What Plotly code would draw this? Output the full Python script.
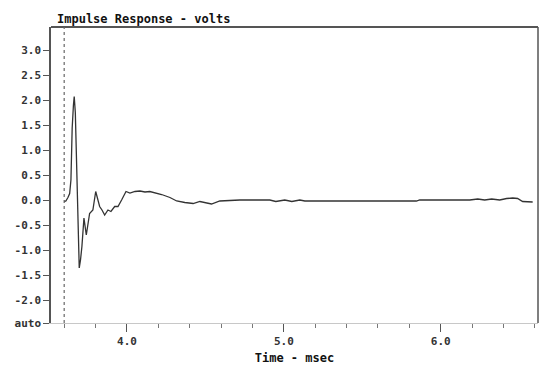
import plotly.graph_objects as go

# Impulse response samples (time in msec, value in volts)
time_ms = [3.599, 3.611, 3.624, 3.635, 3.643, 3.647, 3.651, 3.659, 3.664, 3.671, 3.678,
           3.685, 3.691, 3.696, 3.704, 3.713, 3.726, 3.741, 3.762, 3.783, 3.801, 3.826,
           3.841, 3.858, 3.879, 3.898, 3.922, 3.943, 3.966, 3.994, 4.019, 4.051, 4.083,
           4.115, 4.146, 4.185, 4.221, 4.274, 4.317, 4.369, 4.422, 4.465, 4.529, 4.539,
           4.592, 4.720, 4.911, 4.949, 5.006, 5.051, 5.102, 5.134, 5.293, 5.548, 5.845,
           5.866, 5.962, 5.994, 6.185, 6.236, 6.280, 6.325, 6.376, 6.420, 6.459, 6.490,
           6.522, 6.586]
volts = [-0.03, -0.02, 0.05, 0.13, 0.40, 1.00, 1.44, 1.90, 2.07, 1.75, 0.90,
         -0.30, -1.10, -1.36, -1.20, -0.93, -0.36, -0.70, -0.27, -0.20, 0.17, -0.13,
         -0.20, -0.30, -0.20, -0.23, -0.13, -0.13, 0.00, 0.17, 0.14, 0.17, 0.18,
         0.16, 0.17, 0.14, 0.11, 0.05, -0.02, -0.05, -0.07, -0.03, -0.07, -0.08,
         -0.02, 0.00, 0.00, -0.03, 0.00, -0.03, 0.00, -0.02, -0.02, -0.02, -0.02,
         0.00, -0.01, 0.00, 0.00, 0.02, 0.00, 0.02, 0.00, 0.03, 0.04, 0.03,
         -0.03, -0.04]

y_tick_vals = [-2.46, -2.0, -1.5, -1.0, -0.5, 0.0, 0.5, 1.0, 1.5, 2.0, 2.5, 3.0]
y_tick_text = ["auto", "-2.0", "-1.5", "-1.0", "-0.5", "0.0", "0.5", "1.0", "1.5", "2.0", "2.5", "3.0"]
x_major_vals = [4.0, 5.0, 6.0]
x_major_text = ["4.0", "5.0", "6.0"]
marker_time = 3.6

X_RANGE = [3.516, 6.62]
Y_RANGE = [-2.46, 3.46]
FONT = "DejaVu Sans Mono"

fig = go.Figure()
fig.add_trace(go.Scatter(x=time_ms, y=volts, mode="lines",
                         line=dict(color="#333333", width=1.3), showlegend=False))

fig.update_layout(
    width=549, height=365,
    margin=dict(l=51, r=11, t=27, b=42),
    paper_bgcolor="white", plot_bgcolor="white",
    font=dict(family=FONT, size=11, color="#222222"),
    xaxis=dict(range=X_RANGE, showgrid=False, zeroline=False, automargin=False,
               showline=True, linecolor="#c8c8c8", linewidth=1,
               tickmode="array", tickvals=x_major_vals, ticktext=x_major_text,
               ticks="outside", ticklen=8, tickcolor="#555555", tickwidth=1,
               ticklabelstandoff=0,
               minor=dict(dtick=0.2, tick0=4.0, ticks="outside", ticklen=4,
                          tickcolor="#777777", showgrid=False),
               tickfont=dict(family=FONT, size=11, color="#333333", weight="bold"),
               title=dict(text="Time - msec", standoff=13,
                          font=dict(family=FONT, size=12, color="#111111", weight="bold"))),
    yaxis=dict(range=Y_RANGE, showgrid=False, zeroline=False, automargin=False,
               showline=True, linecolor="#555555", linewidth=1.5,
               tickmode="array", tickvals=y_tick_vals, ticktext=y_tick_text,
               ticks="outside", ticklen=6, tickcolor="#555555",
               tickfont=dict(family=FONT, size=11, color="#333333", weight="bold")),
    annotations=[dict(text="Impulse Response - volts", xref="paper", yref="paper",
                      x=0.008, y=1.0, xanchor="left", yanchor="bottom", showarrow=False,
                      yshift=-1,
                      font=dict(family=FONT, size=12, color="#111111", weight="bold"))],
    shapes=[
        dict(type="line", xref="paper", yref="paper", x0=0, x1=1, y0=1, y1=1,
             line=dict(color="#555555", width=2)),
        dict(type="line", xref="paper", yref="paper", x0=1, x1=1, y0=0, y1=1,
             line=dict(color="#555555", width=1.5)),
        dict(type="line", xref="x", yref="paper", x0=marker_time, x1=marker_time, y0=0, y1=1,
             line=dict(color="#666666", width=1.2, dash="dot")),
    ],
)

fig.write_html("out.html")
